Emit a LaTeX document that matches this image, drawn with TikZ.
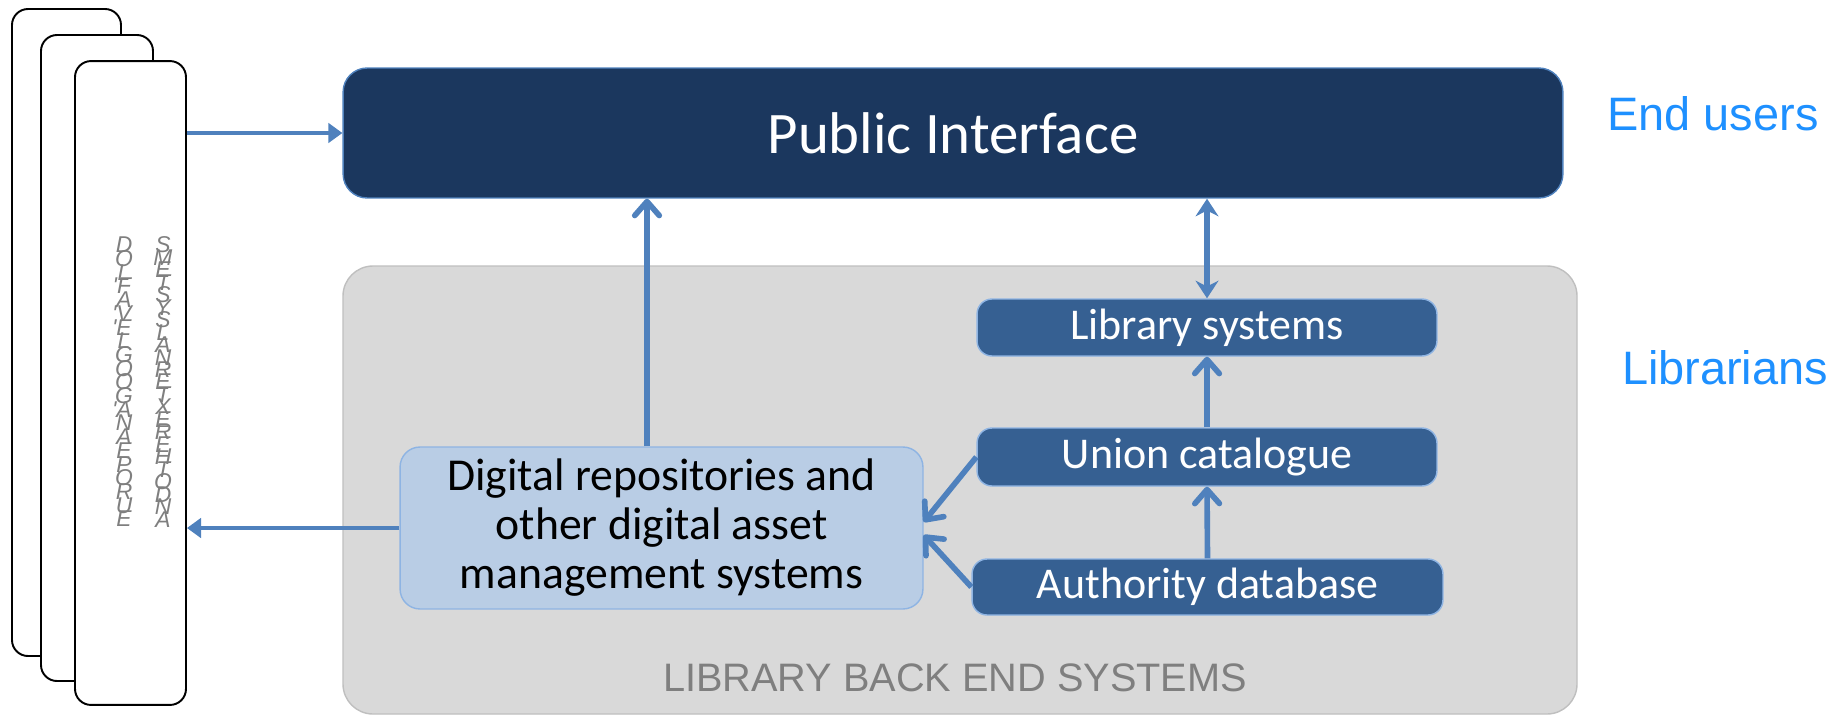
\documentclass[tikz,border=0pt]{standalone}
\usepackage{fontspec}
\setmainfont{Carlito}
\newfontfamily\arialfont{Liberation Sans}
\usetikzlibrary{arrows.meta}

\definecolor{navy}{HTML}{1B375E}
\definecolor{midblue}{HTML}{366092}
\definecolor{paleblue}{HTML}{B9CDE5}
\definecolor{linkblue}{HTML}{4F81BD}
\definecolor{rimblue}{HTML}{8EB4E3}
\definecolor{backgray}{HTML}{D9D9D9}
\definecolor{rimgray}{HTML}{BFBFBF}
\definecolor{rolecolor}{HTML}{1E90FF}
\definecolor{lettergray}{HTML}{7F7F7F}

\newcommand{\tightlines}{\setlength{\lineskiplimit}{-20pt}}

\tikzset{
	sysbox/.style={draw=rimblue, fill=midblue, line width=0.8pt, rounded corners=0.3cm,
		text=white, inner sep=0pt, font=\fontsize{25}{30}\selectfont},
	page/.style={draw=black, fill=white, line width=1.1pt, rounded corners=0.32cm},
	link/.style={linkblue, line width=3.2pt, -{Straight Barb[round,length=8pt,width=14pt]}},
	flat/.style={linkblue, line width=2.6pt, -{Triangle[length=8pt,width=11pt]}},
	both/.style={linkblue, line width=3.2pt, {Stealth[length=10pt,width=13pt]}-{Stealth[length=10pt,width=13pt]}},
	role/.style={text=rolecolor, font=\arialfont\fontsize{26.7}{32}\selectfont},
	letters/.style={text=lettergray, inner sep=0pt, align=center}
}

\begin{document}
\begin{tikzpicture}[x=0.02cm,y=-0.02cm]

	\useasboundingbox (0,0) rectangle (1848,717);

	% stacked pages on the left
	\draw[page] (12,9) rectangle (121,656);
	\draw[page] (41,35) rectangle (153,681);
	\node[page, minimum width=2.22cm, minimum height=12.88cm] (front) at (130.5,383) {};

	% letters down the front page
	\node[letters, font=\arialfont\itshape\fontsize{13}{7.8}\selectfont\tightlines] (cola) at (124,382)
		{D\\O\\L\\\llap{'}F\\A\\\llap{'}V\\\llap{'}E\\L\\G\\O\\O\\G\\\llap{'}A\\N\\A\\E\\P\\O\\R\\U\\E};
	\node[letters, font=\arialfont\itshape\fontsize{13}{7.1}\selectfont\tightlines] (colb) at (163,382)
		{S\\M\\E\\T\\S\\Y\\S\\L\\A\\N\\R\\E\\T\\X\\E\\R\\E\\H\\T\\O\\D\\N\\A};

	% back end area
	\filldraw[fill=backgray, draw=rimgray, line width=0.8pt, rounded corners=0.6cm] (343,266) rectangle (1577,714);
	\node[text=lettergray, font=\arialfont\fontsize{22.6}{27}\selectfont] (back) at (955,678) {LIBRARY BACK END SYSTEMS};

	% boxes
	\node[draw=linkblue, fill=navy, line width=0.8pt, rounded corners=0.48cm, text=white,
		minimum width=24.4cm, minimum height=2.6cm, inner sep=0pt,
		font=\fontsize{33.5}{40}\selectfont] (pub) at (953,133) {Public Interface};

	\node[sysbox, minimum width=9.2cm, minimum height=1.14cm] (lib) at (1207,327.5) {Library systems};
	\node[sysbox, minimum width=9.2cm, minimum height=1.16cm] (uni) at (1207,457) {Union catalogue};
	\node[sysbox, minimum width=9.42cm, minimum height=1.12cm] (auth) at (1207.5,587) {Authority database};

	\node[draw=rimblue, fill=paleblue, line width=0.8pt, rounded corners=0.4cm,
		minimum width=10.46cm, minimum height=3.24cm, inner sep=0pt, align=center,
		font=\fontsize{26}{27.9}\selectfont] (dig) at (661.5,528)
		{Digital repositories and\\other digital asset\\management systems};

	% roles
	\node[role] (users) at (1713,114) {End users};
	\node[role] (libn) at (1725,368) {Librarians};

	% arrows
	\draw[flat] (front.east |- pub.west) -- (pub.west);
	\draw[flat] (dig.west) -- (front.east |- dig.west);
	\draw[link] ([xshift=-0.29cm]dig.north) -- ([xshift=-0.29cm]dig.north |- pub.south);
	\draw[both] (pub.south -| lib.north) -- (lib.north);
	\draw[link] (uni.north) -- (lib.south);
	\draw[link] (auth.north) -- (uni.south);
	\draw[link] (uni.west) -- ([yshift=0.12cm]dig.east);
	\draw[link] (auth.west) -- ([yshift=-0.14cm]dig.east);

\end{tikzpicture}
\end{document}
